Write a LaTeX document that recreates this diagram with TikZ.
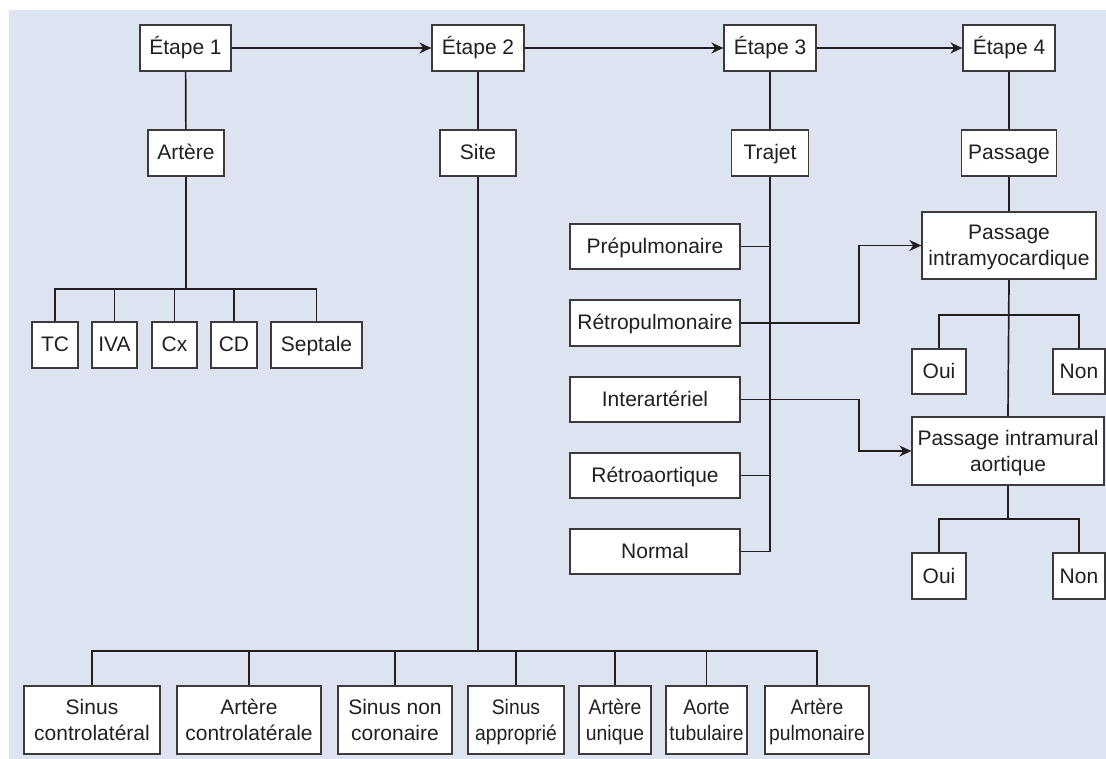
\documentclass[tikz,border=0pt]{standalone}
\usepackage{fontspec}
\setmainfont{Liberation Sans}
\newfontfamily\narrowfont[FakeStretch=0.92]{Liberation Sans}
\usetikzlibrary{arrows.meta}
\definecolor{bgblue}{RGB}{221,227,241}
\definecolor{ink}{RGB}{35,31,32}
\definecolor{boxline}{RGB}{60,58,58}
\tikzset{
  box/.style={draw=boxline, line width=1.3pt, fill=white, inner sep=0pt, align=center,
    text=ink, font=\fontsize{21}{26}\selectfont},
  one/.style={text height=15pt, text depth=1pt},
  two/.style={text depth=0pt},
  small/.style={font=\narrowfont\fontsize{21}{26}\selectfont},
  wire/.style={draw=ink, line width=1.7pt},
  arr/.style={wire, -{Stealth[length=12pt,width=11pt]}},
}
\newcommand{\bx}[6]{\node[box, one, minimum width=#4pt, minimum height=#5pt] (#1) at (#2,#3) {#6};}
\newcommand{\bt}[7][]{\node[box, two, #1, minimum width=#5pt, minimum height=#6pt] (#2) at (#3,#4) {#7};}
\begin{document}
\begin{tikzpicture}[x=1pt,y=-1pt]
\useasboundingbox (0,0) rectangle (1106,759);
\fill[bgblue] (9,10) rectangle (1106,759);
% top row
\bx{e1}{185.5}{48}{91}{46}{Étape 1}
\bx{e2}{478}{48}{92}{46}{Étape 2}
\bx{e3}{770}{48}{92}{46}{Étape 3}
\bx{e4}{1009}{48}{92}{46}{Étape 4}
\bx{art}{186}{153}{76}{46}{Artère}
\bx{site}{478}{153}{76}{46}{Site}
\bx{traj}{770}{153}{77}{46}{Trajet}
\bx{pass}{1009}{153}{95}{46}{Passage}
% arteries
\bx{tc}{55}{345}{46}{46}{TC}
\bx{iva}{114.5}{345}{45}{46}{IVA}
\bx{cx}{174.5}{345}{45}{46}{Cx}
\bx{cd}{234}{345}{46}{46}{CD}
\bx{sep}{316.5}{345}{91}{46}{Septale}
% trajet
\bx{pre}{655}{246.5}{170}{45}{Prépulmonaire}
\bx{retro}{655}{323}{170}{46}{Rétropulmonaire}
\bx{inter}{655}{399.5}{170}{45}{Interartériel}
\bx{raor}{655}{475.5}{170}{45}{Rétroaortique}
\bx{norm}{655}{551.5}{170}{45}{Normal}
% passage
\bt{myo}{1009}{245.5}{174}{67}{Passage\\intramyocardique}
\bx{oui1}{939}{371.5}{54}{45}{Oui}
\bx{non1}{1079}{371.5}{52}{45}{Non}
\bt{mur}{1008}{451}{192}{68}{Passage intramural\\aortique}
\bx{oui2}{939}{576}{54}{46}{Oui}
\bx{non2}{1079}{576}{52}{46}{Non}
% site
\bt{s1}{92}{720}{136}{68}{Sinus\\controlatéral}
\bt{s2}{249}{720}{144}{68}{Artère\\controlatérale}
\bt{s3}{395}{720}{114}{68}{Sinus non\\coronaire}
\bt[small]{s4}{516}{720}{96}{68}{Sinus\\approprié}
\bt[small]{s5}{615}{720}{72}{68}{Artère\\unique}
\bt[small]{s6}{706.5}{720}{81}{68}{Aorte\\tubulaire}
\bt[small]{s7}{817}{720}{104}{68}{Artère\\pulmonaire}
% bus coordinates
\coordinate (busA) at (0,289);
\coordinate (busS) at (0,651);
\coordinate (busM) at (0,315);
\coordinate (busI) at (0,519);
\coordinate (jx) at (859,0);
% top arrows
\draw[arr] (e1) -- (e2);
\draw[arr] (e2) -- (e3);
\draw[arr] (e3) -- (e4);
% stems
\draw[wire] (e1) -- (art);
\draw[wire] (e2) -- (site);
\draw[wire] (e3) -- (traj);
\draw[wire] (e4) -- (pass);
\draw[wire] (pass) -- (myo);
% artery tree
\draw[wire] (art.south) -- (art.south |- busA);
\foreach \c in {tc,iva,cx,cd,sep}{\draw[wire] (art.south |- busA) -| (\c.north);}
% site tree
\draw[wire] (site.south) -- (site.south |- busS);
\foreach \c in {s1,s2,s3,s4,s5,s6,s7}{\draw[wire] (site.south |- busS) -| (\c.north);}
% trajet tree
\draw[wire] (traj.south) |- (norm.east);
\foreach \c in {pre,raor}{\draw[wire] (\c.east) -- (\c.east -| traj.south);}
\draw[arr] (retro.east) -- (retro.east -| jx) |- (myo.west);
\draw[arr] (inter.east) -- (inter.east -| jx) |- (mur.west);
% passage tree
\draw[wire] (myo.south) -- (mur.north);
\foreach \c in {oui1,non1}{\draw[wire] (myo.south |- busM) -| (\c.north);}
\draw[wire] (mur.south) -- (mur.south |- busI);
\foreach \c in {oui2,non2}{\draw[wire] (mur.south |- busI) -| (\c.north);}
\end{tikzpicture}
\end{document}
